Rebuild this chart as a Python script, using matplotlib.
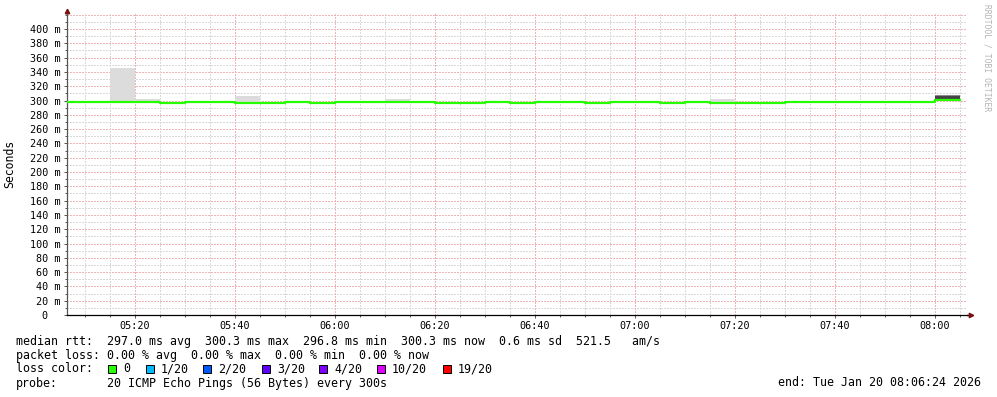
import numpy as np
import matplotlib
matplotlib.use("Agg")
import matplotlib.pyplot as plt
from matplotlib.patches import Rectangle

# 5 minute bins, start time in minutes after 05:00
bin_start = np.arange(5, 185, 5)

median_rtt = [297.8, 297.8, 297.8, 297.8, 296.9, 297.8, 297.8, 297.2, 297.2,
              297.8, 296.9, 297.5, 297.8, 297.8, 297.5, 297.2, 297.2, 297.8,
              297.2, 297.8, 297.8, 297.2, 297.8, 297.8, 297.2, 297.8, 297.2,
              297.2, 297.2, 297.8, 297.8, 297.8, 297.8, 297.8, 297.8, 300.3]

smoke_lo = [296.5] * 35 + [299.5]
smoke_hi = [298.5, 298.5, 345.5, 301.7, 298.5, 298.5, 298.5, 306.7, 298.5,
            298.5, 298.5, 298.5, 298.5, 301.7, 298.5, 298.5, 298.5, 298.5,
            298.5, 298.5, 298.5, 298.5, 298.5, 298.5, 298.5, 298.5, 301.7,
            298.5, 298.5, 298.5, 298.5, 298.5, 298.5, 298.5, 298.5, 307.6]
# dense core of the smoke (only the last bin has a visible one)
core_lo = [np.nan] * 35 + [300.0]
core_hi = [np.nan] * 35 + [306.2]

x_ticks = [20, 40, 60, 80, 100, 120, 140, 160, 180]
x_labels = ["05:20", "05:40", "06:00", "06:20", "06:40", "07:00", "07:20", "07:40", "08:00"]
y_ticks = list(range(0, 401, 20))
y_labels = ["0  "] + ["%d m" % v for v in y_ticks[1:]]

loss_names = ["0", "1/20", "2/20", "3/20", "4/20", "10/20", "19/20"]
loss_colors = ["#26ff00", "#00b8ff", "#0059ff", "#5e00ff", "#7e00ff", "#dd00ff", "#ff0000"]

W, H = 997, 397
mono = "DejaVu Sans Mono"

fig = plt.figure(figsize=(W / 100, H / 100), dpi=100)
fig.patch.set_facecolor("white")
ax = fig.add_axes([67 / W, 82 / H, 900 / W, 301 / H])

# grid: minor grey, major red, both dotted
for v in range(10, 421, 10):
    col = "#f0b4b4" if v % 20 == 0 else "#d9d9d9"
    ax.axhline(v, color=col, lw=0.72, ls=(0, (1.4, 1.4)), zorder=0, antialiased=False)
for m in range(10, 187, 5):
    col = "#f0b4b4" if m % 20 == 0 else "#d9d9d9"
    ax.axvline(m, color=col, lw=0.72, ls=(0, (1.4, 1.4)), zorder=0, antialiased=False)

# smoke
ax.bar(bin_start, np.array(smoke_hi) - np.array(smoke_lo), bottom=smoke_lo,
       width=5, align="edge", color="#dcdcdc", lw=0, zorder=1)
ax.bar(bin_start[-1], 307.6 - 306.2, bottom=306.2, width=5, align="edge",
       color="#8a8a8a", lw=0, zorder=1)
ax.bar(bin_start, np.array(core_hi) - np.array(core_lo), bottom=core_lo,
       width=5, align="edge", color="#444444", lw=0, zorder=2)

# median
edges = np.append(bin_start, bin_start[-1] + 5)
ax.step(edges, median_rtt + [median_rtt[-1]], where="post", color="#26ff00",
        lw=1.6, zorder=3)

ax.set_xlim(6.4, 186.4)
ax.set_ylim(0, 421)
ax.set_xticks(x_ticks)
ax.set_xticklabels(x_labels, family=mono, fontsize=7.3)
ax.set_xticks(range(10, 186, 5), minor=True)
ax.set_yticks(y_ticks)
ax.set_yticklabels(y_labels, family=mono, fontsize=7.3)
ax.set_yticks(range(10, 421, 10), minor=True)
ax.tick_params(which="major", length=2.5, width=0.7, color="#555555", pad=2)
ax.tick_params(which="minor", length=1.5, width=0.7, color="#555555")
for s in ["top", "right"]:
    ax.spines[s].set_visible(False)
ax.spines["left"].set_color("#555555")
ax.spines["bottom"].set_color("black")
ax.spines["left"].set_linewidth(0.9)
ax.spines["bottom"].set_linewidth(0.9)

# axis arrows
ax.plot([0, 0], [1.0, 1.005], color="#555555", lw=0.9, transform=ax.transAxes, clip_on=False)
ax.plot(0, 1.01, marker="^", ms=3.2, color="#7a1010", transform=ax.transAxes, clip_on=False)
ax.plot([1.0, 1.003], [0, 0], color="black", lw=0.9, transform=ax.transAxes, clip_on=False)
ax.plot(1.004, 0, marker=">", ms=3.2, color="#7a1010", transform=ax.transAxes, clip_on=False)

fig.text(10 / W, 1 - 164 / H, "Seconds", rotation=90, family=mono, fontsize=8.3,
         ha="center", va="center")
fig.text(987 / W, 1 - 4 / H, "RRDTOOL / TOBI OETIKER", rotation=270, family=mono,
         fontsize=5.8, color="#b4b4b4", ha="center", va="top")


def txt(x, y, s, **kw):
    fig.text(x / W, 1 - y / H, s, family=mono, fontsize=8.4, va="center", **kw)


txt(16, 341.5, "median rtt:")
txt(107, 341.5, "297.0 ms avg  300.3 ms max  296.8 ms min  300.3 ms now  0.6 ms sd  521.5   am/s")
txt(16, 355.5, "packet loss:")
txt(107, 355.5, "0.00 % avg  0.00 % max  0.00 % min  0.00 % now")
txt(16, 369, "loss color:")
box_x = [108, 146, 203, 262, 319, 377, 443]
for bx, name, c in zip(box_x, loss_names, loss_colors):
    fig.patches.append(Rectangle((bx / W, 1 - 373 / H), 8 / W, 8 / H, facecolor=c,
                                 edgecolor="black", lw=0.7, transform=fig.transFigure))
    txt(bx + 15, 369, name)
txt(16, 383, "probe:")
txt(107, 383, "20 ICMP Echo Pings (56 Bytes) every 300s")
txt(981, 383, "end: Tue Jan 20 08:06:24 2026", ha="right")

fig.savefig("out.png", dpi=100, facecolor="white")
